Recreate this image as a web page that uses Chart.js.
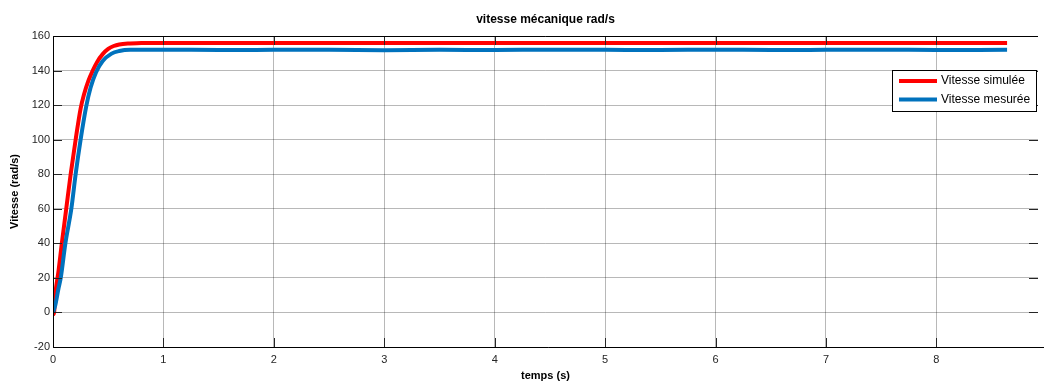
<!DOCTYPE html>
<html>
<head>
<meta charset="utf-8">
<script src="https://cdn.jsdelivr.net/npm/chart.js@4"></script>
<style>
  html, body { margin: 0; padding: 0; background: #fff; }
  #wrap { width: 1044px; height: 383px; }
</style>
</head>
<body>
<div id="wrap"><canvas id="speedChart" width="1044" height="383"></canvas></div>
<script>
const titleText = 'vitesse mécanique rad/s';
const xTitle = 'temps (s)';
const yTitle = 'Vitesse (rad/s)';
const labels = ['Vitesse simulée', 'Vitesse mesurée'];

// vitesse simulée
const timeSim = [0, 0.008, 0.02, 0.05, 0.08, 0.12, 0.16, 0.205, 0.25, 0.28, 0.32, 0.36, 0.40, 0.45,
                 0.50, 0.55, 0.60, 0.70, 0.80, 1.5, 2.5, 3.5, 4.5, 5.5, 6.5, 7.5, 8.64];
const speedSim = [0, -1, 10, 24, 40, 60, 80, 100, 118, 126, 134, 140, 145, 149.5,
                  152.5, 154.2, 155.1, 155.7, 156, 156, 156, 156, 156, 156, 156, 156, 156];

// vitesse mesurée
const timeMes = [0, 0.02, 0.05, 0.07, 0.112, 0.166, 0.205, 0.25, 0.30, 0.34, 0.39, 0.45, 0.53, 0.60, 0.70,
                 1.0, 1.5, 2.0, 2.5, 3.0, 3.5, 4.0, 4.5, 5.0, 5.5, 6.0, 6.5, 7.0, 7.5, 8.0, 8.64];
const speedMes = [0, 4, 14, 20, 40, 60, 80, 100, 119, 130, 139, 145.5, 149.8, 151.3, 152,
                  152.1, 151.9, 152, 152.1, 151.8, 152, 151.9, 152.1, 152, 151.9, 152.1, 151.9, 152, 152.1, 151.9, 152];

const xTicks = [0, 1, 2, 3, 4, 5, 6, 7, 8];
const yTicks = [-20, 0, 20, 40, 60, 80, 100, 120, 140, 160];

const pts = (xs, ys) => xs.map((x, i) => ({ x: x, y: ys[i] }));
const FONT = '"Liberation Sans", Arial, sans-serif';

const framePlugin = {
    id: 'frame',
    afterDraw(chart) {
        const { ctx, chartArea: a, scales } = chart;
        ctx.save();
        // inward ticks
        ctx.strokeStyle = '#262626';
        ctx.lineWidth = 1;
        ctx.beginPath();
        xTicks.forEach(v => {
            const px = Math.round(scales.x.getPixelForValue(v)) + 0.5;
            ctx.moveTo(px, a.bottom); ctx.lineTo(px, a.bottom - 9);
            ctx.moveTo(px, a.top); ctx.lineTo(px, a.top + 9);
        });
        yTicks.forEach(v => {
            const py = Math.round(scales.y.getPixelForValue(v)) + 0.5;
            ctx.moveTo(a.left, py); ctx.lineTo(a.left + 9, py);
            ctx.moveTo(a.right, py); ctx.lineTo(a.right - 9, py);
        });
        ctx.stroke();
        // box
        ctx.strokeStyle = '#000';
        ctx.beginPath();
        ctx.moveTo(a.right, Math.round(a.top) + 0.5);
        ctx.lineTo(Math.round(a.left) + 0.5, Math.round(a.top) + 0.5);
        ctx.lineTo(Math.round(a.left) + 0.5, Math.round(a.bottom) + 0.5);
        ctx.lineTo(chart.width, Math.round(a.bottom) + 0.5);
        ctx.stroke();
        // title
        ctx.fillStyle = '#000';
        ctx.font = 'bold 12px ' + FONT;
        ctx.textAlign = 'center';
        ctx.textBaseline = 'middle';
        ctx.fillText(titleText, (a.left + a.right) / 2, 20);
        // legend
        const lx = 892, ly = 70, lw = 144, lh = 41;
        ctx.fillStyle = '#fff';
        ctx.fillRect(lx, ly, lw, lh);
        ctx.strokeStyle = '#000';
        ctx.strokeRect(lx + 0.5, ly + 0.5, lw, lh);
        ctx.font = '12px ' + FONT;
        ctx.textAlign = 'left';
        chart.data.datasets.forEach((ds, i) => {
            const y = ly + 11 + i * 18.5;
            ctx.strokeStyle = ds.borderColor;
            ctx.lineWidth = 4;
            ctx.beginPath();
            ctx.moveTo(lx + 7, y); ctx.lineTo(lx + 45, y);
            ctx.stroke();
            ctx.fillStyle = '#000';
            ctx.fillText(ds.label, lx + 49, y);
        });
        ctx.restore();
    }
};

new Chart(document.getElementById('speedChart').getContext('2d'), {
    type: 'scatter',
    data: {
        datasets: [{
            label: labels[0],
            data: pts(timeSim, speedSim),
            showLine: true,
            borderColor: '#ff0000',
            borderWidth: 4,
            pointRadius: 0,
            cubicInterpolationMode: 'monotone',
            order: 1
        }, {
            label: labels[1],
            data: pts(timeMes, speedMes),
            showLine: true,
            borderColor: '#0072bd',
            borderWidth: 4,
            pointRadius: 0,
            cubicInterpolationMode: 'monotone',
            order: 0
        }]
    },
    options: {
        responsive: false,
        animation: false,
        events: [],
        layout: { padding: { top: 36, right: 6, left: 0, bottom: 0 } },
        scales: {
            x: {
                type: 'linear',
                min: 0,
                max: 8.92,
                afterBuildTicks: s => { s.ticks = xTicks.map(v => ({ value: v })); },
                afterFit: s => { s.height = 36; },
                border: { display: false },
                grid: { color: 'rgba(0,0,0,0.28)', drawTicks: false },
                ticks: { padding: 6, color: '#262626', font: { family: FONT, size: 11 } },
                title: { display: true, text: xTitle, color: '#000', padding: { top: 0, bottom: 0 },
                         font: { family: FONT, size: 11, weight: 'bold' } }
            },
            y: {
                min: -20,
                max: 160,
                afterBuildTicks: s => { s.ticks = yTicks.map(v => ({ value: v })); },
                afterFit: s => { s.width = 53; },
                border: { display: false },
                grid: { color: 'rgba(0,0,0,0.28)', drawTicks: false },
                ticks: { padding: 3, color: '#262626', font: { family: FONT, size: 11 } },
                title: { display: true, text: yTitle, color: '#000', padding: { top: 8, bottom: 0 },
                         font: { family: FONT, size: 11, weight: 'bold' } }
            }
        },
        plugins: {
            legend: { display: false },
            tooltip: { enabled: false },
            title: { display: false }
        }
    },
    plugins: [framePlugin]
});
</script>
</body>
</html>
